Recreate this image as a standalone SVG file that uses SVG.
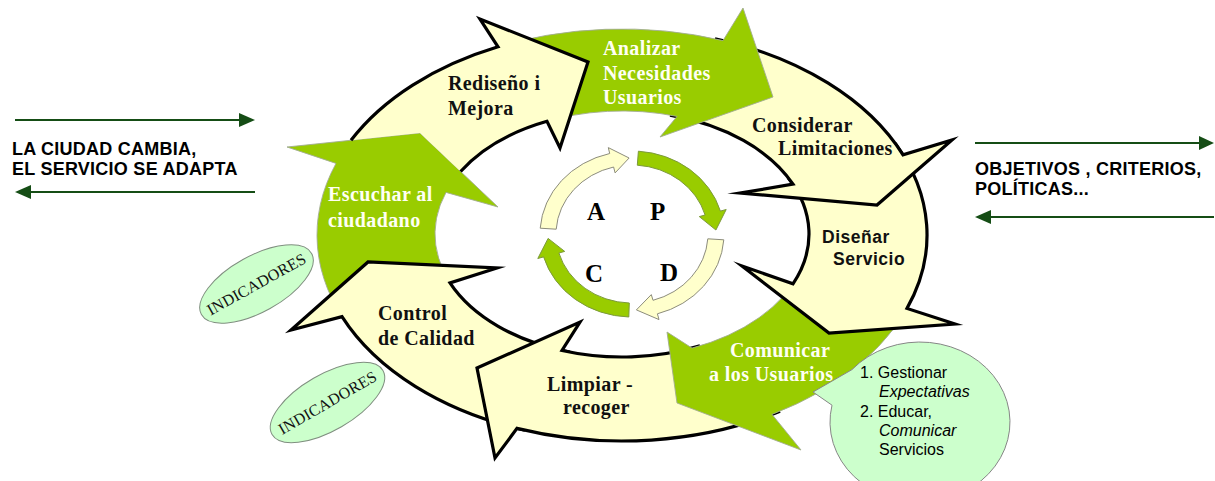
<svg xmlns="http://www.w3.org/2000/svg" width="1215" height="481" viewBox="0 0 1215 481">
<defs>
<style>
.y{fill:#ffffcc;stroke:none}
.g{fill:#99cc00;stroke:#a2ad92;stroke-width:0.9;stroke-linejoin:round}
.ol{fill:none;stroke:#000000;stroke-width:3.2;stroke-linejoin:miter;stroke-miterlimit:10}
.sy{fill:#ffffcc;stroke:#8c8c7c;stroke-width:1}
.sg{fill:#99cc00;stroke:#7c9a3c;stroke-width:1}
.lbl{font-family:"Liberation Serif","Times New Roman",serif;font-weight:bold;font-size:20px;letter-spacing:0.4px}
.dk{fill:#111}
.wt{fill:#fffff4}
.sans{font-family:"Liberation Sans",Arial,sans-serif}
.side{font-family:"Liberation Sans",Arial,sans-serif;font-weight:bold;font-size:18px;letter-spacing:0.25px;fill:#000}
.pdca{font-family:"Liberation Serif","Times New Roman",serif;font-weight:bold;font-size:25px;fill:#000}
.ind{fill:#ccffcc;stroke:#7f8f7f;stroke-width:1}
.indt{font-family:"Liberation Serif","Times New Roman",serif;font-size:16px;fill:#111;letter-spacing:0.2px}
.bt{font-family:"Liberation Sans",Arial,sans-serif;font-size:16px;fill:#000}
.ln{stroke:#154d15;stroke-width:2;fill:none}
.hd{fill:#154d15}
</style>
</defs>
<rect width="1215" height="481" fill="#ffffff"/>

<g id="ring">
<g id="escuchar">
<path class="g" d="M 350,328.2 A 305 206 0 0 1 336,163.4 L 287,147 L 420,133 L 498,207 L 446,192.4 A 187 123 0 0 0 460,295.4 Z"/>
<text class="lbl wt" x="328" y="201">Escuchar al</text>
<text class="lbl wt" x="328" y="227">ciudadano</text>
</g>
<g id="control">
<path class="y" d="M 525,430.3 A 305 206 0 0 1 342,316.7 L 291,330 L 368,262 L 497,268 L 450,282.9 A 187 123 0 0 0 570,352.1 Z"/>
<path class="ol" stroke="#000" stroke-width="3.2" fill="none" d="M 525,430.3 A 305 206 0 0 1 342,316.7 L 291,330 L 368,262 L 497,268 L 450,282.9 A 187 123 0 0 0 570,352.1"/>
<text class="lbl dk" x="378" y="320">Control</text>
<text class="lbl dk" x="378" y="345">de Calidad</text>
</g>
<g id="limpiar">
<path class="y" d="M 780,411.2 A 305 206 0 0 1 517,428.4 L 495,458 L 477,368 L 580,322 L 562,350.5 A 187 123 0 0 0 700,345.8 Z"/>
<path class="ol" stroke="#000" stroke-width="3.2" fill="none" d="M 780,411.2 A 305 206 0 0 1 517,428.4 L 495,458 L 477,368 L 580,322 L 562,350.5 A 187 123 0 0 0 700,345.8"/>
<text class="lbl dk" x="547" y="391">Limpiar -</text>
<text class="lbl dk" x="563" y="414">recoger</text>
</g>
<g id="comunicar">
<path class="g" d="M 915,292.2 A 305 206 0 0 1 772,414.4 L 801,450 L 677,403 L 667,332 L 692,348.1 A 187 123 0 0 0 800,271.7 Z"/>
<text class="lbl wt" x="730" y="357">Comunicar</text>
<text class="lbl wt" x="709" y="381">a los Usuarios</text>
</g>
<g id="disenar">
<path class="y" d="M 895,143.1 A 305 206 0 0 1 907,308.4 L 955,324 L 829,333 L 742,266 L 793,283.8 A 187 123 0 0 0 788,177.4 Z"/>
<path class="ol" stroke="#000" stroke-width="3.2" fill="none" d="M 895,143.1 A 305 206 0 0 1 907,308.4 L 955,324 L 829,333 L 742,266 L 793,283.8 A 187 123 0 0 0 788,177.4"/>
<text class="sans" x="822" y="243" font-size="17.5" font-weight="bold" letter-spacing="0.5" fill="#111">Diseñar</text>
<text class="sans" x="833" y="265" font-size="17.5" font-weight="bold" letter-spacing="0.5" fill="#111">Servicio</text>
</g>
<g id="considerar">
<path class="y" d="M 715,38.8 A 305 206 0 0 1 903,154.9 L 952,140 L 877,205 L 740,193 L 793,184.2 A 187 123 0 0 0 670,115.1 Z"/>
<path class="ol" stroke="#000" stroke-width="3.2" fill="none" d="M 715,38.8 A 305 206 0 0 1 903,154.9 L 952,140 L 877,205 L 740,193 L 793,184.2 A 187 123 0 0 0 670,115.1"/>
<text class="lbl dk" x="752" y="132">Considerar</text>
<text class="lbl dk" x="778" y="155">Limitaciones</text>
</g>
<g id="analizar">
<path class="g" d="M 490,49.3 A 305 206 0 0 1 723,40.6 L 743,8 L 773,97 L 660,137 L 677,116.4 A 187 123 0 0 0 540,123.5 Z"/>
<text class="lbl wt" x="603" y="55">Analizar</text>
<text class="lbl wt" x="603" y="80">Necesidades</text>
<text class="lbl wt" x="603" y="104">Usuarios</text>
</g>
<g id="redisenyo">
<path class="y" d="M 420,133 L 351,140.3 A 305 206 0 0 1 498,46.8 L 480,19 L 588,62 L 560,148 L 547,121.3 A 187 123 0 0 0 460.6,171.5 Z"/>
<path class="ol" stroke="#000" stroke-width="3.2" fill="none" d="M 351,140.3 A 305 206 0 0 1 498,46.8 L 480,19 L 588,62 L 560,148 L 547,121.3 A 187 123 0 0 0 460.6,171.5"/>
<text class="lbl dk" x="448" y="90">Rediseño i</text>
<text class="lbl dk" x="448" y="115">Mejora</text>
</g>
</g>

<g id="pdca">
<g id="act">
<path class="sy" d="M 540.2,228.2 A 92 83 0 0 1 609.7,153.5 L 608.3,147.6 L 629.1,158 L 615.1,172.9 L 613.6,167 A 76 69 0 0 0 556.2,229.2 Z"/>
<text class="pdca" x="587" y="220">A</text>
</g>
<g id="plan">
<path class="sg" d="M 638.4,151.2 A 92 83 0 0 1 720.4,211.1 L 726.2,209.5 L 715.9,230 L 699.3,216.6 L 705.1,215 A 76 69 0 0 0 637.3,165.2 Z"/>
<text class="pdca" x="650" y="220">P</text>
</g>
<g id="do">
<path class="sy" d="M 723.8,239.8 A 92 83 0 0 1 657.4,313.8 L 659,319.6 L 636.4,309.9 L 651.3,294.6 L 653,300.3 A 76 69 0 0 0 707.8,238.8 Z"/>
<text class="pdca" x="660" y="281">D</text>
</g>
<g id="check">
<path class="sg" d="M 628.8,317 A 92 83 0 0 1 543.6,256.9 L 537.8,258.5 L 548.1,238.4 L 564.7,251.4 L 558.9,253 A 76 69 0 0 0 629.3,303 Z"/>
<text class="pdca" x="585" y="282">C</text>
</g>
</g>

<g id="indicadores1">
<ellipse class="ind" cx="256.5" cy="284" rx="63" ry="28" transform="rotate(-29 256.5 284)"/>
<text class="indt" x="256.5" y="289.5" text-anchor="middle" transform="rotate(-29 256.5 284)">INDICADORES</text>
</g>
<g id="indicadores2">
<ellipse class="ind" cx="327.5" cy="402.5" rx="64" ry="28" transform="rotate(-30 327.5 402.5)"/>
<text class="indt" x="327.5" y="408" text-anchor="middle" transform="rotate(-30 327.5 402.5)">INDICADORES</text>
</g>

<g id="bubble">
<path fill="#ccffcc" stroke="#868686" stroke-width="1" d="M 852,369.6 L 813,392 L 832,405.2 A 90 80 0 1 0 852,369.6 Z"/>
<text class="bt" x="860" y="378">1. Gestionar</text>
<text class="bt" x="879" y="397" font-style="italic">Expectativas</text>
<text class="bt" x="860" y="417">2. Educar,</text>
<text class="bt" x="879" y="436" font-style="italic">Comunicar</text>
<text class="bt" x="879" y="455">Servicios</text>
</g>

<g id="left-note">
<text class="side" x="12" y="155">LA CIUDAD CAMBIA,</text>
<text class="side" x="12" y="175">EL SERVICIO SE ADAPTA</text>
</g>
<g id="right-note">
<text class="side" x="975" y="175">OBJETIVOS , CRITERIOS,</text>
<text class="side" x="975" y="195">POLÍTICAS...</text>
</g>

<g id="connectors">
<line class="ln" x1="15" y1="120" x2="241" y2="120"/>
<polygon class="hd" points="239,113 255,120 239,127"/>
<line class="ln" x1="255" y1="192" x2="29" y2="192"/>
<polygon class="hd" points="31,185 15,192 31,199"/>
<line class="ln" x1="975" y1="143" x2="1200" y2="143"/>
<polygon class="hd" points="1199,136 1214,143 1199,150"/>
<line class="ln" x1="1214" y1="217" x2="989" y2="217"/>
<polygon class="hd" points="991,210 975,217 991,224"/>
</g>
</svg>
